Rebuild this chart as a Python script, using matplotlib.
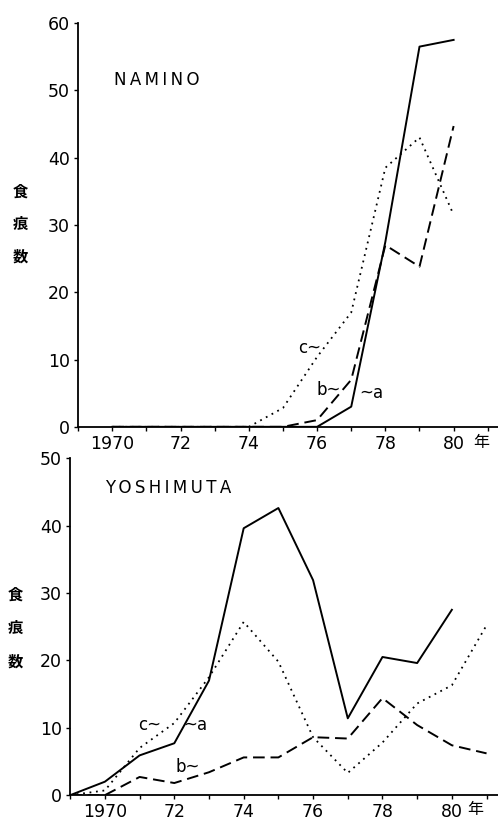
import matplotlib
matplotlib.use("Agg")
import matplotlib.pyplot as plt
import matplotlib.transforms as mtransforms
import numpy as np

plt.rcParams['font.family'] = ['DejaVu Sans', 'Noto Sans CJK JP']

# NAMINO (top panel)
nam_years = [1970, 1971, 1972, 1973, 1974, 1975, 1976, 1977, 1978, 1979, 1980]
nam_a = [0, 0, 0, 0, 0, 0, 0, 3, 27.5, 56.5, 57.5]
nam_b = [0, 0, 0, 0, 0, 0, 1, 7, 27, 23.8, 44.7]
nam_c = [0, 0, 0, 0, 0, 2.8, 10.4, 17, 38.5, 43, 31.5]

# YOSHIMUTA (bottom panel)
yos_years = [1969, 1970, 1971, 1972, 1973, 1974, 1975, 1976, 1977, 1978, 1979, 1980, 1981]
yos_a = [0, 2.0, 5.9, 7.7, 17, 39.6, 42.6, 31.9, 11.4, 20.5, 19.6, 27.5]
yos_b = [0, 0, 2.7, 1.8, 3.4, 5.6, 5.6, 8.6, 8.4, 14.4, 10.4, 7.4, 6.2]
yos_c = [0, 0.7, 7, 10.7, 17.5, 25.7, 19.8, 8.6, 3.3, 7.8, 13.6, 16.3, 25.2]

xtick_pos = [1970, 1972, 1974, 1976, 1978, 1980]
xtick_lab = ['1970', '72', '74', '76', '78', '80']
ylabel_chars = ['食', '痕', '数']
cjk = ['Noto Sans CJK JP', 'DejaVu Sans']
ts = '\u2009'  # thin space for letter spacing in the panel names

fig = plt.figure(figsize=(4.98, 8.24), dpi=100)
ax1 = fig.add_axes([0.157, 0.482, 0.843, 0.490])
ax2 = fig.add_axes([0.141, 0.035, 0.859, 0.409])

lw = 1.4
sty_a = dict(color='black', lw=lw, linestyle='-')
sty_b = dict(color='black', lw=lw, linestyle=(0, (6, 3)))
sty_c = dict(color='black', lw=1.3, linestyle=(0, (1, 2.6)))

ax1.plot(nam_years, nam_a, **sty_a)
ax1.plot(nam_years, nam_b, **sty_b)
ax1.plot(nam_years, nam_c, **sty_c)
ax1.set_xlim(1969.13, 1981.3)
ax1.set_ylim(0, 60)

ax2.plot(yos_years[:len(yos_a)], yos_a, **sty_a)
ax2.plot(yos_years, yos_b, **sty_b)
ax2.plot(yos_years, yos_c, **sty_c)
ax2.set_xlim(1969.0, 1981.33)
ax2.set_ylim(0, 50)

for ax, nen_x in ((ax1, 1980.8), (ax2, 1980.68)):
    for s in ('top', 'right'):
        ax.spines[s].set_visible(False)
    for s in ('left', 'bottom'):
        ax.spines[s].set_linewidth(1.3)
    ax.set_xticks(xtick_pos)
    ax.set_xticklabels(xtick_lab)
    ax.set_xticks(np.arange(1969, 1982), minor=True)
    ax.tick_params(axis='x', which='both', direction='out', length=3, width=1, labelsize=12.5, pad=3)
    ax.tick_params(axis='y', direction='out', length=3, width=1, labelsize=12.5, pad=3)
    trans = mtransforms.blended_transform_factory(ax.transData, ax.transAxes)
    ax.text(nen_x, -0.018, '年', transform=trans, ha='center', va='top',
            fontsize=11.5, family=cjk)

ax1.set_yticks(range(0, 61, 10))
ax2.set_yticks(range(0, 51, 10))

for ch, yp in zip(ylabel_chars, [192, 224, 257]):
    fig.text(20 / 498, 1 - yp / 824, ch, ha='center', va='center', fontsize=11,
             family=cjk, fontweight='bold')
for ch, yp in zip(ylabel_chars, [595, 628, 662]):
    fig.text(15 / 498, 1 - yp / 824, ch, ha='center', va='center', fontsize=11,
             family=cjk, fontweight='bold')

ax1.text(1970.05, 51.5, ts.join('NAMINO'), fontsize=12, ha='left', va='center')
ax2.text(1970.0, 45.5, ts.join('YOSHIMUTA'), fontsize=12, ha='left', va='center')

ax1.text(1975.77, 11.7, 'c~', fontsize=12, ha='center', va='center')
ax1.text(1976.35, 5.5, 'b~', fontsize=12, ha='center', va='center')
ax1.text(1977.6, 5.0, '~a', fontsize=12, ha='center', va='center')

ax2.text(1971.3, 10.4, 'c~', fontsize=12, ha='center', va='center')
ax2.text(1972.6, 10.4, '~a', fontsize=12, ha='center', va='center')
ax2.text(1972.4, 4.2, 'b~', fontsize=12, ha='center', va='center')

fig.savefig('out.png', dpi=100, facecolor='white')
